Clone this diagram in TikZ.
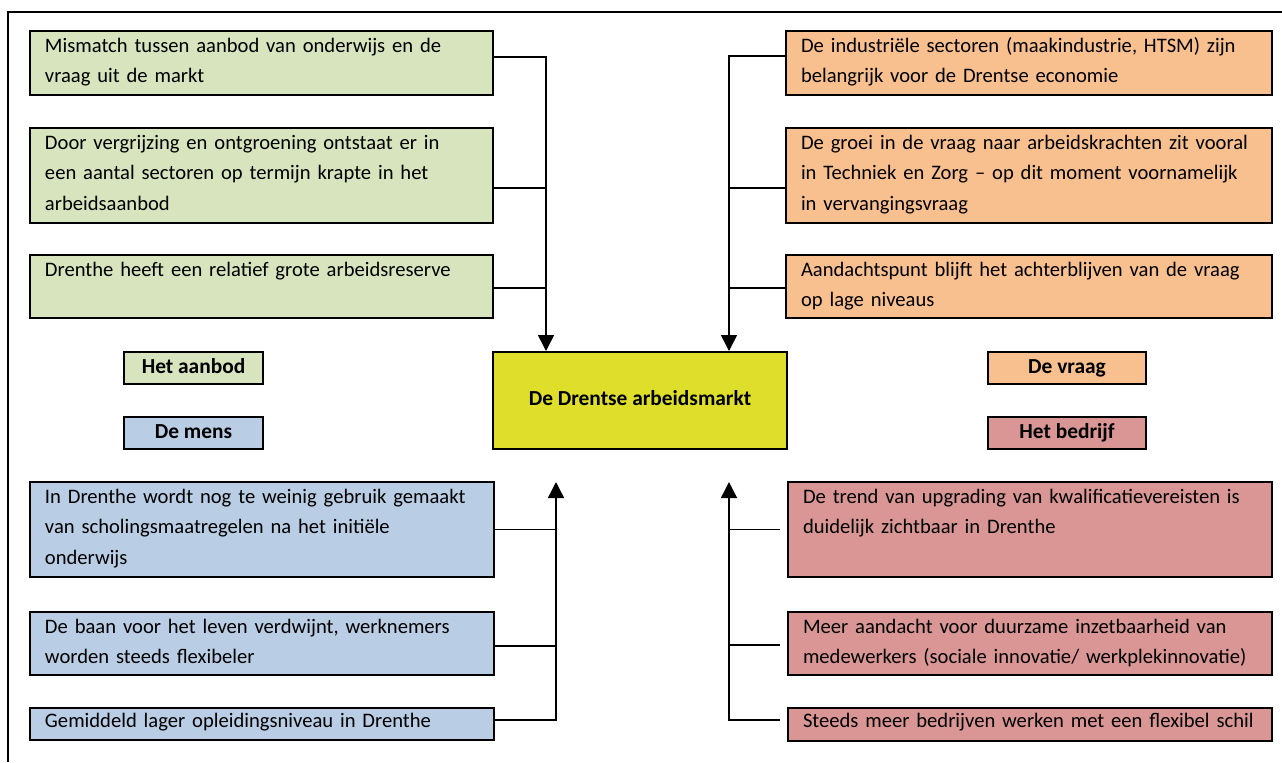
\documentclass[tikz,border=0pt]{standalone}
\usepackage{fontspec}
\setmainfont{Carlito}
\usetikzlibrary{arrows.meta}

\definecolor{aanbodgreen}{HTML}{D7E4BD}
\definecolor{vraagorange}{HTML}{F9C08F}
\definecolor{mensblue}{HTML}{B9CDE5}
\definecolor{bedrijfred}{HTML}{D99694}
\definecolor{marktyellow}{HTML}{DFDF2B}
\newcommand\boxfont{\fontsize{10.3}{15.25}\selectfont}
\newcommand\headfont{\fontsize{10.7}{15.25}\selectfont\bfseries}

\begin{document}
\begin{tikzpicture}[x=0.5pt,y=-0.5pt,
  item/.style={draw,line width=1pt,anchor=north west,align=left,
    inner xsep=7.5pt,inner ysep=0pt,text height=10.5pt,font=\boxfont},
  headbox/.style={draw,line width=1pt,anchor=north west,inner sep=0pt,
    minimum height=16pt,text height=0.75em,text depth=0.25em,font=\headfont},
  conn/.style={line width=0.75pt},
  arr/.style={conn,-{Triangle[length=8pt,width=8pt]}}]
  \useasboundingbox (0,0) rectangle (1282,762);
  \draw [line width=0.75pt] (1282,12) -| (8,762);

  % het aanbod
  \node [item,fill=aanbodgreen,text width=216.5pt,text depth=21.5pt] (g1) at (29,30)
    {Mismatch tussen aanbod van onderwijs en de\\vraag uit de markt};
  \node [item,fill=aanbodgreen,text width=216.5pt,text depth=37pt] (g2) at (29,127)
    {Door vergrijzing en ontgroening ontstaat er in\\een aantal sectoren op termijn krapte in het\\arbeidsaanbod};
  \node [item,fill=aanbodgreen,text width=216.5pt,text depth=21pt] (g3) at (29,254)
    {Drenthe heeft een relatief grote arbeidsreserve};

  % de vraag
  \node [item,fill=vraagorange,text width=228pt,text depth=21.5pt] (o1) at (785,30)
    {De industriële sectoren (maakindustrie, HTSM) zijn\\belangrijk voor de Drentse economie};
  \node [item,fill=vraagorange,text width=228pt,text depth=37pt] (o2) at (785,127)
    {\mbox{De groei in de vraag naar arbeidskrachten zit vooral}\\\mbox{in Techniek en Zorg -- op dit moment voornamelijk}\\in vervangingsvraag};
  \node [item,fill=vraagorange,text width=228pt,text depth=21pt] (o3) at (785,254)
    {\mbox{Aandachtspunt blijft het achterblijven van de vraag}\\op lage niveaus};

  % de mens
  \node [item,fill=mensblue,text width=217pt,text depth=37pt] (b1) at (29,481)
    {\mbox{In Drenthe wordt nog te weinig gebruik gemaakt}\\van scholingsmaatregelen na het initiële\\onderwijs};
  \node [item,fill=mensblue,text width=217pt,text depth=21pt] (b2) at (29,611)
    {De baan voor het leven verdwijnt, werknemers\\worden steeds flexibeler};
  \node [item,fill=mensblue,text width=217pt,text height=9.5pt,text depth=6.5pt] (b3) at (29,707)
    {Gemiddeld lager opleidingsniveau in Drenthe};

  % het bedrijf
  \node [item,fill=bedrijfred,text width=227pt,text depth=37pt] (p1) at (787,481)
    {\mbox{De trend van upgrading van kwalificatievereisten is}\\duidelijk zichtbaar in Drenthe};
  \node [item,fill=bedrijfred,text width=227pt,text depth=21pt] (p2) at (787,611)
    {Meer aandacht voor duurzame inzetbaarheid van\\\mbox{medewerkers (sociale innovatie/ werkplekinnovatie)}};
  \node [item,fill=bedrijfred,text width=227pt,text height=9.5pt,text depth=7pt] (p3) at (787,707)
    {\mbox{Steeds meer bedrijven werken met een flexibel schil}};

  \node [headbox,fill=marktyellow,minimum width=147pt,minimum height=48.5pt] (mkt) at (492,351)
    {De Drentse arbeidsmarkt};
  \node [headbox,fill=aanbodgreen,minimum width=69.5pt] (aanbod) at (123,351) {Het aanbod};
  \node [headbox,fill=mensblue,minimum width=69.5pt] (mens) at (123,416) {De mens};
  \node [headbox,fill=vraagorange,minimum width=79pt] (vraag) at (987,351) {De vraag};
  \node [headbox,fill=bedrijfred,minimum width=79pt] (bedrijf) at (987,416) {Het bedrijf};

  \coordinate (inL) at ([xshift=27pt]mkt.north west);
  \coordinate (inR) at ([xshift=-29.5pt]mkt.north east);
  \coordinate (outL) at ([xshift=32pt,yshift=-16pt]mkt.south west);
  \coordinate (outR) at ([xshift=-29.5pt,yshift=-16pt]mkt.south east);

  \draw [arr] ([yshift=3pt]g1.east) -| (inL);
  \draw [conn] ([yshift=-6.25pt]g2.east) -- ([yshift=-6.25pt]g2.east -| inL);
  \draw [conn] ([yshift=-0.75pt]g3.east) -- ([yshift=-0.75pt]g3.east -| inL);

  \draw [arr] ([yshift=3.5pt]o1.west) -| (inR);
  \draw [conn] ([yshift=-6.25pt]o2.west) -- ([yshift=-6.25pt]o2.west -| inR);
  \draw [conn] ([yshift=-0.75pt]o3.west) -- ([yshift=-0.75pt]o3.west -| inR);

  \draw [arr] ([yshift=2pt]b3.east) -| (outL);
  \draw [conn] (b1.east) -- (b1.east -| outL);
  \draw [conn] ([yshift=-1.25pt]b2.east) -- ([yshift=-1.25pt]b2.east -| outL);

  \draw [arr,shorten <=3.5pt] ([yshift=2.25pt]p3.west) -| (outR);
  \draw [conn,shorten <=3.5pt] (p1.west) -- (p1.west -| outR);
  \draw [conn,shorten <=3.5pt] ([yshift=-0.75pt]p2.west) -- ([yshift=-0.75pt]p2.west -| outR);
\end{tikzpicture}
\end{document}
